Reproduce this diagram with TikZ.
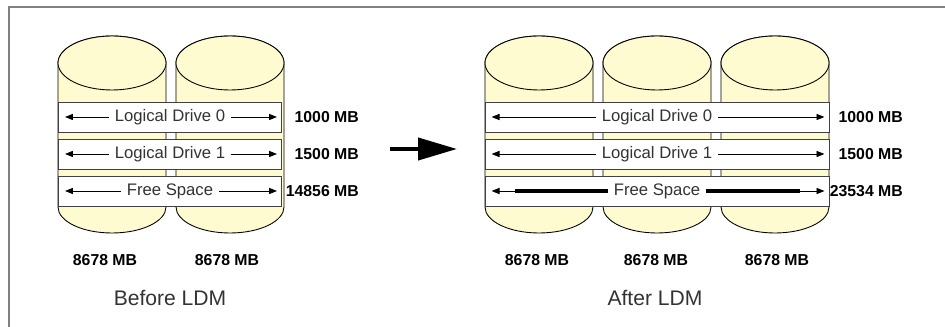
\documentclass[tikz,border=0pt]{standalone}
\usepackage{fontspec}
\setmainfont{Liberation Sans}
\usetikzlibrary{arrows.meta, positioning}

\definecolor{diskyellow}{RGB}{255,251,208}
\definecolor{framegray}{RGB}{128,128,128}

\begin{document}
\begin{tikzpicture}[
  x=0.02cm, y=0.02cm,
  disk/.style={draw=black, line width=0.5pt, fill=diskyellow},
  band/.style={rectangle, draw=black!75, fill=white, line width=0.5pt, minimum height=0.6cm, inner sep=0pt},
  bandtext/.style={fill=white, inner xsep=3pt, inner ysep=1pt, font=\fontsize{9.5}{11}\selectfont, text=black!80},
  span/.style={-{Triangle[length=4.5pt, width=3.5pt]}, line width=0.5pt},
  size/.style={font=\fontsize{9}{11}\bfseries\selectfont, anchor=east},
  disksize/.style={font=\fontsize{9}{11}\bfseries\selectfont},
  caption/.style={font=\fontsize{12}{14}\selectfont, text=black!80}
]
\useasboundingbox (0,0) rectangle (945,327);
\draw[framegray, line width=1.1pt] (945,320) -- (9,320) -- (9,0);

% physical disks
\foreach \x in {58,176,485,603,721} {
  \draw[disk] (\x,264) -- (\x,120)
    arc[start angle=180, end angle=360, x radius=54, y radius=26]
    -- (\x+108,264)
    arc[start angle=0, end angle=180, x radius=54, y radius=27] -- cycle;
  \draw[disk] (\x+54,264) ellipse[x radius=54, y radius=27];
}

% logical drives before
\node[band, minimum width=4.46cm] (ldA0) at (170,210) {};
\node[band, minimum width=4.46cm] (ldA1) at (170,173) {};
\node[band, minimum width=4.46cm] (freeA) at (170,136) {};
% logical drives after
\node[band, minimum width=6.88cm] (ldB0) at (657,210) {};
\node[band, minimum width=6.88cm] (ldB1) at (657,173) {};
\node[band, minimum width=6.88cm] (freeB) at (657,136) {};

\foreach \b/\t in {ldA0/Logical Drive 0, ldA1/Logical Drive 1, freeA/Free Space,
                   ldB0/Logical Drive 0, ldB1/Logical Drive 1, freeB/Free Space} {
  \node[bandtext] (\b-t) at (\b) {\t};
  \draw[span] (\b-t.west) -- ([xshift=0.14cm]\b.west);
  \draw[span] (\b-t.east) -- ([xshift=-0.1cm]\b.east);
}
\draw[line width=2pt] (freeB-t.west) -- ([xshift=0.6cm]freeB.west);
\draw[line width=2pt] (freeB-t.east) -- ([xshift=-0.58cm]freeB.east);

% sizes
\node[size] (szA0) at (365,210) {1000 MB};
\node[size] (szA1) at (365,173) {1500 MB};
\node[size] (szA2) at (365,136) {14856 MB};
\node[size] (szB0) at (909,210) {1000 MB};
\node[size] (szB1) at (909,173) {1500 MB};
\node[size] (szB2) at (909,136) {23534 MB};

\node[disksize] (dA1) at (105,67) {8678 MB};
\node[disksize] (dA2) at (227,67) {8678 MB};
\node[disksize] (dB1) at (537,67) {8678 MB};
\node[disksize] (dB2) at (656,67) {8678 MB};
\node[disksize] (dB3) at (777,67) {8678 MB};

\node[caption] (before) at (170,29) {Before LDM};
\node[caption] (after) at (655,29) {After LDM};

% migration arrow
\coordinate (mig-s) at (390,178);
\coordinate (mig-e) at (457,178);
\draw[line width=2.3pt, -{Triangle[length=0.78cm, width=0.44cm]}] (mig-s) -- (mig-e);
\end{tikzpicture}
\end{document}
